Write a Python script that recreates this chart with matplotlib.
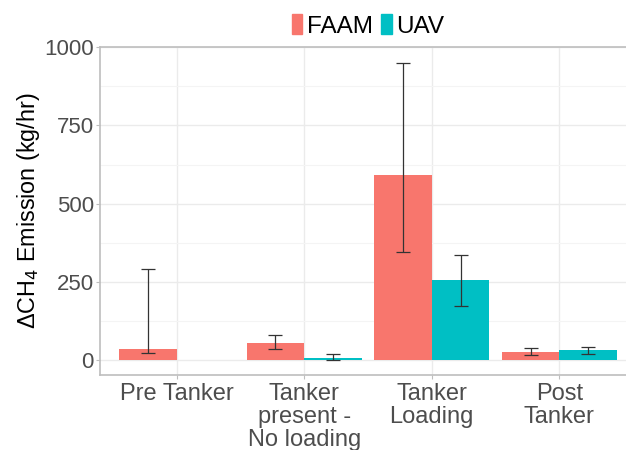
import matplotlib.pyplot as plt
from matplotlib.patches import Patch
import numpy as np

plt.rcParams["font.family"] = ["Liberation Sans", "DejaVu Sans"]

kategorije = ["Pre Tanker", "Tanker\npresent -\nNo loading", "Tanker\nLoading", "Post\nTanker"]
faam = [36, 53, 591, 26]
faam_lo = [22, 34, 344, 15]
faam_hi = [290, 81, 951, 39]
uav = [np.nan, 5, 255, 31]
uav_lo = [np.nan, 0, 172, 18]
uav_hi = [np.nan, 18, 336, 43]

barve = {"FAAM": "#F8766D", "UAV": "#00BFC4"}


def narisi():
    fig = plt.figure(figsize=(6.26, 4.5), dpi=100)
    ax = fig.add_axes([100 / 626, 75 / 450, 536 / 626, 328 / 450])
    x = np.arange(1, len(kategorije) + 1)
    w = 0.45

    for ime, vr, lo, hi, off in [
        ("FAAM", faam, faam_lo, faam_hi, -w / 2),
        ("UAV", uav, uav_lo, uav_hi, w / 2),
    ]:
        vr = np.array(vr, dtype=float)
        lo = np.array(lo, dtype=float)
        hi = np.array(hi, dtype=float)
        ok = ~np.isnan(vr)
        ax.bar(x[ok] + off, vr[ok], width=w, color=barve[ime], zorder=2)
        ax.errorbar(x[ok] + off, vr[ok], yerr=[vr[ok] - lo[ok], hi[ok] - vr[ok]],
                    fmt="none", ecolor="#333333", elinewidth=0.9, capsize=5,
                    capthick=0.9, zorder=3)

    ax.set_xlim(0.4, 4.6)
    ax.set_ylim(-48, 1001)
    ax.set_yticks([0, 250, 500, 750, 1000])
    ax.set_yticks([125, 375, 625, 875], minor=True)
    ax.set_xticks(x)
    ax.set_xticklabels(kategorije, linespacing=1.06)
    ax.grid(which="major", color="#EBEBEB", lw=1.0, zorder=0)
    ax.grid(which="minor", axis="y", color="#F4F4F4", lw=0.8, zorder=0)
    ax.tick_params(axis="both", colors="#BEBEBE", labelcolor="#4D4D4D",
                   length=3, width=0.8)
    ax.tick_params(axis="y", which="minor", length=0)
    ax.tick_params(axis="y", labelsize=16, pad=1.5)
    ax.tick_params(axis="x", labelsize=17, pad=3)
    for s in ax.spines.values():
        s.set_color("#BEBEBE")
        s.set_linewidth(1.2)
    ax.set_axisbelow(True)
    ax.set_ylabel("ΔCH$_4$ Emission (kg/hr)", fontsize=16.8, labelpad=1.5)

    roke = [Patch(color=barve[k]) for k in barve]
    fig.legend(roke, list(barve), loc="center", bbox_to_anchor=(368 / 626, 1 - 26 / 450),
               ncol=2, frameon=False, fontsize=17.5, handlelength=0.45, handleheight=0.85,
               handletextpad=0.2, columnspacing=0.3, borderpad=0)
    fig.savefig("out.png", dpi=100)


if __name__ == "__main__":
    narisi()
